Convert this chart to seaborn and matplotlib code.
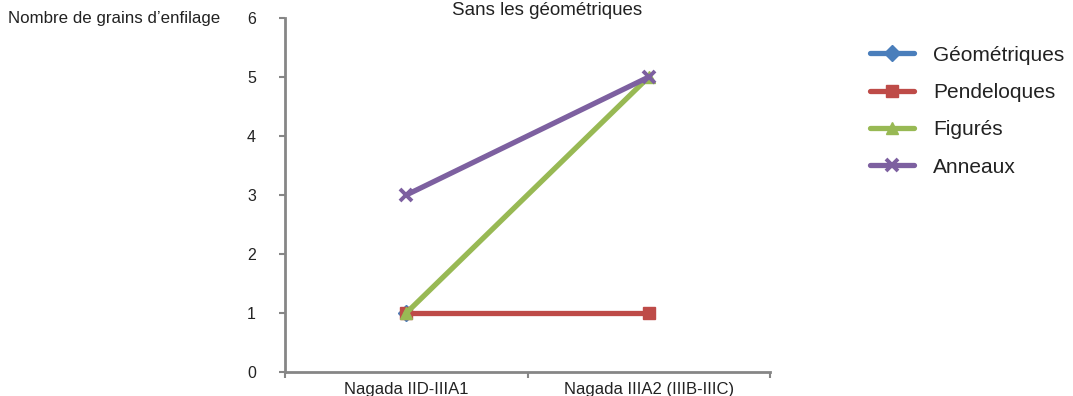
import numpy as np
import pandas as pd
import matplotlib
matplotlib.use("Agg")
import matplotlib.pyplot as plt
from matplotlib.ticker import FixedLocator
import seaborn as sns

categories = ["Nagada IID-IIIA1", "Nagada IIIA2 (IIIB-IIIC)"]
series_names = ["Géométriques", "Pendeloques", "Figurés", "Anneaux"]
geometriques = [1, np.nan]
pendeloques = [1, 1]
figures = [1, 5]
anneaux = [3, 5]
y_ticks = [0, 1, 2, 3, 4, 5, 6]

colors = ["#4a7ebb", "#be4b48", "#98b954", "#7d60a0"]
markers = ["D", "s", "^", "x"]

rows = []
for name, vals in zip(series_names, [geometriques, pendeloques, figures, anneaux]):
    for i, v in enumerate(vals):
        rows.append({"serie": name, "pos": i, "valeur": v})
df = pd.DataFrame(rows)

sns.set_style("white")
plt.rcParams["font.family"] = ["Liberation Sans", "DejaVu Sans"]

fig = plt.figure(figsize=(10.73, 3.96), dpi=100)
ax = fig.add_axes([285 / 1073, 1 - 372 / 396, 485 / 1073, 354 / 396])

for name, col, mk in zip(series_names, colors, markers):
    sub = df[df["serie"] == name]
    sns.lineplot(data=sub, x="pos", y="valeur", ax=ax, color=col, marker=mk,
                 linewidth=3.8, markersize=8,
                 markeredgewidth=1 if mk != "x" else 2.8,
                 markeredgecolor=col, label=name, legend=False)

ax.set_xlim(-0.5, 1.5)
ax.set_ylim(0, 6)
ax.set_xlabel("")
ax.set_ylabel("")

ax.set_yticks(y_ticks)
ax.set_yticklabels([str(t) for t in y_ticks])
ax.set_xticks([0, 1])
ax.set_xticklabels(categories)
ax.xaxis.set_minor_locator(FixedLocator([-0.5, 0.5, 1.5]))

for s in ["top", "right"]:
    ax.spines[s].set_visible(False)
for s in ["left", "bottom"]:
    ax.spines[s].set_color("#868686")
    ax.spines[s].set_linewidth(2)

ax.tick_params(axis="y", which="major", direction="out", length=4, width=1.5,
               color="#868686", pad=17, labelsize=11.5, labelcolor="#222222", left=True)
ax.tick_params(axis="x", which="major", length=0, pad=7, labelsize=12,
               labelcolor="#222222", bottom=True)
ax.tick_params(axis="x", which="minor", direction="out", length=4, width=1.5,
               color="#868686", bottom=True)

fig.text(547 / 1073, 1 - 15 / 396, "Sans les géométriques", ha="center",
         va="baseline", fontsize=13.5, color="#222222")
fig.text(8 / 1073, 1 - 18 / 396, "Nombre de grains d\u2019enfilage", ha="left",
         va="center", fontsize=12.2, color="#222222")

handles, labels = ax.get_legend_handles_labels()
leg = fig.legend(handles, labels, loc="upper left",
                 bbox_to_anchor=(851 / 1073, 1 - 27 / 396), frameon=False,
                 fontsize=15, handlelength=2.1, labelspacing=0.88,
                 handletextpad=0.95)
for t in leg.get_texts():
    t.set_color("#222222")

fig.savefig("out.png", dpi=100)
